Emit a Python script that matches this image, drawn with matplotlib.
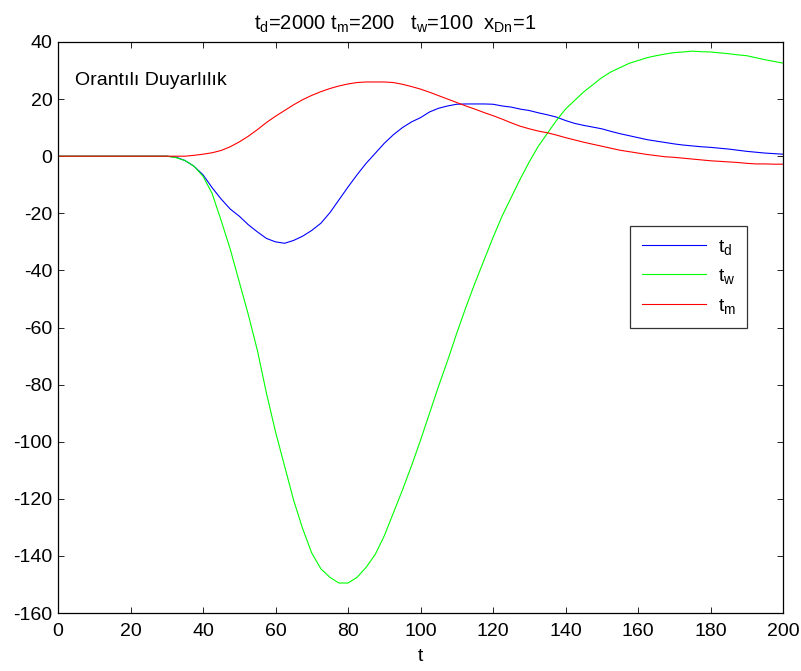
import matplotlib
matplotlib.use("Agg")
import matplotlib.pyplot as plt
import numpy as np

plt.rcParams['font.family'] = ['Liberation Sans', 'DejaVu Sans']
plt.rcParams['mathtext.fontset'] = 'custom'
plt.rcParams['mathtext.rm'] = 'Liberation Sans'
plt.rcParams['mathtext.it'] = 'Liberation Sans'
plt.rcParams['axes.unicode_minus'] = False

# time axis (step 2.5)
t = np.arange(0, 200.01, 2.5)

t_d = [0, 0, 0, 0, 0, 0, 0, 0, 0, 0, 0, 0, 0, -0.3, -1.5, -3.5,
       -6.5, -11, -15, -18.5, -21, -24, -26.5, -28.8, -30, -30.5, -29.5, -28,
       -26, -23.5, -19.8, -15.3, -10.8, -6.5, -2.5, 1, 4.5, 7.5, 10, 12,
       13.5, 15.5, 16.8, 17.6, 18.2, 18.3, 18.3, 18.3, 18.2, 17.6, 17.2, 16.5,
       16, 15.2, 14.5, 13.7, 12.5, 11.5, 10.8, 10.2, 9.6, 8.7, 7.9, 7.2,
       6.5, 5.8, 5.3, 4.8, 4.3, 3.9, 3.6, 3.3, 3.1, 2.8, 2.5, 2.1,
       1.7, 1.4, 1.1, 0.9, 0.7]

t_w = [0, 0, 0, 0, 0, 0, 0, 0, 0, 0, 0, 0, 0, -0.5, -1.5, -3.5,
       -7, -13, -22.5, -32.5, -44, -55.5, -68, -83, -96.5, -108.5, -120.5, -130.5,
       -139, -144.5, -147.5, -149.5, -149.5, -147.5, -144, -139.5, -133, -125, -117, -108.5,
       -99.5, -90, -80.5, -71.5, -62, -53, -44.5, -36.5, -28.5, -21, -14.5, -8,
       -2, 3.5, 8, 12.5, 16.5, 19.5, 22.5, 25, 27.5, 29.5, 31, 32.5,
       33.5, 34.5, 35.2, 35.8, 36.3, 36.5, 36.8, 36.6, 36.5, 36.2, 35.9, 35.5,
       35.2, 34.5, 33.8, 33.2, 32.6]

t_m = [0, 0, 0, 0, 0, 0, 0, 0, 0, 0, 0, 0, 0, 0, 0, 0.3,
       0.7, 1.2, 2, 3.3, 5, 7, 9.3, 11.8, 14, 16, 18, 19.8,
       21.3, 22.6, 23.7, 24.6, 25.3, 25.8, 26, 26, 26, 25.8, 25.2, 24.4,
       23.5, 22.4, 21.2, 20, 18.8, 17.6, 16.5, 15.3, 14.2, 13, 11.7, 10.5,
       9.6, 8.8, 8.2, 7.4, 6.5, 5.7, 4.9, 4.2, 3.5, 2.8, 2.1, 1.6,
       1.1, 0.6, 0.2, -0.2, -0.4, -0.7, -1, -1.3, -1.6, -1.8, -2, -2.2,
       -2.5, -2.7, -2.7, -2.8, -2.8]

series_labels = [r'$\mathrm{t_d}$', r'$\mathrm{t_w}$', r'$\mathrm{t_m}$']
series_colors = ['#0000ff', '#00ff00', '#ff0000']

xticks = np.arange(0, 201, 20)
yticks = np.arange(-160, 41, 20)

fig = plt.figure(figsize=(8.01, 6.71), dpi=100)
ax = fig.add_axes([58 / 801, 1 - 613 / 671, 725 / 801, 571 / 671])

for vals, lab, col in zip([t_d, t_w, t_m], series_labels, series_colors):
    ax.plot(t, vals, color=col, lw=0.8, label=lab)

ax.set_xlim(0, 200)
ax.set_ylim(-160, 40)
ax.set_xticks(xticks)
ax.set_yticks(yticks)
ax.tick_params(direction='in', length=4.5, width=0.6, top=True, right=True,
               labelsize=14)
ax.tick_params(axis='x', pad=7)
ax.tick_params(axis='y', pad=4)
for s in ax.spines.values():
    s.set_linewidth(0.9)

ax.set_xlabel('t', fontsize=14, labelpad=6)
ax.set_title(r'$\mathrm{t_d}$=2000 $\mathrm{t_m}$=200   $\mathrm{t_w}$=100  $\mathrm{x_{Dn}}$=1',
             fontsize=14.5, pad=9, x=0.465)

ax.text(0.023, 0.933, 'Orantılı Duyarlılık', transform=ax.transAxes,
        fontsize=14, va='center', ha='left')

leg = ax.legend(loc='upper left', bbox_to_anchor=(0.789, 0.678), fontsize=14,
                frameon=True, fancybox=False, edgecolor='black',
                handlelength=3.3, handletextpad=0.6, borderpad=0.6,
                labelspacing=0.55, borderaxespad=0)
leg.get_frame().set_linewidth(0.9)

fig.savefig('out.png', dpi=100)
